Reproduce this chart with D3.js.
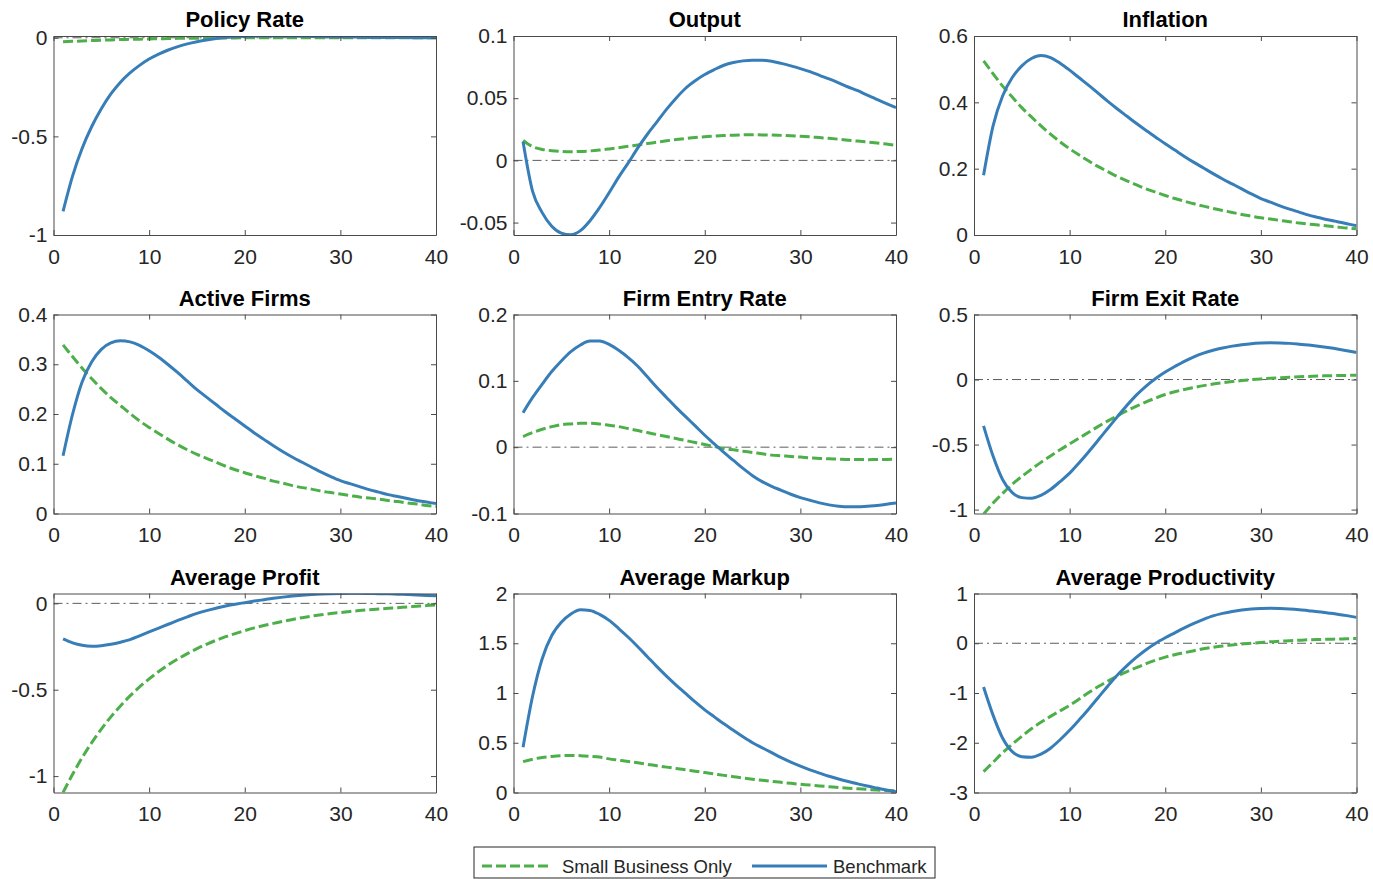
<!DOCTYPE html>
<html>
<head>
<meta charset="utf-8">
<script src="https://cdn.jsdelivr.net/npm/d3@7/dist/d3.min.js"></script>
<style>
  body { margin: 0; background: #fff; }
  svg { font-family: "Liberation Sans", Arial, Helvetica, sans-serif; }
</style>
</head>
<body>
<svg width="1373" height="879"></svg>
<script>
// quarters after the shock
var periods = [1,2,3,4,5,6,7,8,9,10,11,12,13,14,15,16,17,18,19,20,
               21,22,23,24,25,26,27,28,29,30,31,32,33,34,35,36,37,38,39,40];

var titles = ["Policy Rate", "Output", "Inflation",
              "Active Firms", "Firm Entry Rate", "Firm Exit Rate",
              "Average Profit", "Average Markup", "Average Productivity"];

var seriesNames = ["Small Business Only", "Benchmark"];

var xTicks = [0, 10, 20, 30, 40];

// y ranges and ticks, one per panel
var yDomains = [[-1, 0.009], [-0.06, 0.1], [0, 0.6],
                [0, 0.4], [-0.1, 0.2], [-1.03, 0.5],
                [-1.095, 0.057], [0, 2], [-3, 1]];
var yTicks = [[-1, -0.5, 0], [-0.05, 0, 0.05, 0.1], [0, 0.2, 0.4, 0.6],
              [0, 0.1, 0.2, 0.3, 0.4], [-0.1, 0, 0.1, 0.2], [-1, -0.5, 0, 0.5],
              [-1, -0.5, 0], [0, 0.5, 1, 1.5, 2], [-3, -2, -1, 0, 1]];

// Benchmark
var policyBench = [-0.88,-0.70,-0.56,-0.45,-0.36,-0.285,-0.225,-0.178,-0.14,-0.108,
  -0.083,-0.062,-0.045,-0.031,-0.02,-0.011,-0.004,0.001,0.005,0.007,
  0.008,0.009,0.009,0.009,0.008,0.008,0.007,0.006,0.005,0.004,
  0.004,0.003,0.002,0.002,0.001,0.001,0.001,0,0,0];
var outputBench = [0.015,-0.025,-0.042,-0.053,-0.0585,-0.0598,-0.0565,-0.0485,-0.038,-0.026,
  -0.0135,-0.002,0.010,0.021,0.031,0.041,0.050,0.058,0.064,0.069,
  0.073,0.0765,0.0787,0.080,0.0805,0.0805,0.0797,0.078,0.076,0.0738,
  0.0714,0.0684,0.0655,0.0623,0.059,0.056,0.0524,0.049,0.0457,0.0425];
var inflationBench = [0.18,0.33,0.42,0.475,0.51,0.532,0.541,0.535,0.518,0.497,
  0.474,0.451,0.427,0.403,0.380,0.358,0.336,0.315,0.295,0.275,
  0.256,0.237,0.219,0.202,0.185,0.169,0.154,0.139,0.124,0.110,
  0.099,0.088,0.078,0.069,0.060,0.053,0.046,0.040,0.034,0.028];
var activeBench = [0.116,0.200,0.265,0.305,0.330,0.343,0.347,0.345,0.338,0.327,
  0.314,0.299,0.283,0.266,0.249,0.234,0.219,0.204,0.190,0.176,
  0.162,0.149,0.136,0.124,0.113,0.103,0.093,0.083,0.074,0.066,
  0.060,0.054,0.048,0.043,0.038,0.034,0.030,0.026,0.023,0.020];
var entryBench = [0.052,0.075,0.095,0.114,0.130,0.144,0.154,0.160,0.160,0.155,
  0.146,0.135,0.122,0.106,0.090,0.075,0.060,0.046,0.032,0.018,
  0.005,-0.008,-0.020,-0.032,-0.043,-0.052,-0.059,-0.065,-0.071,-0.076,
  -0.080,-0.084,-0.087,-0.089,-0.090,-0.090,-0.089,-0.088,-0.086,-0.084];
var exitBench = [-0.356,-0.59,-0.77,-0.87,-0.908,-0.913,-0.89,-0.845,-0.785,-0.72,
  -0.64,-0.555,-0.465,-0.375,-0.285,-0.198,-0.118,-0.050,0.008,0.058,
  0.10,0.14,0.175,0.203,0.225,0.243,0.257,0.268,0.276,0.280,
  0.282,0.281,0.278,0.272,0.265,0.256,0.246,0.235,0.222,0.208];
var profitBench = [-0.206,-0.229,-0.243,-0.248,-0.245,-0.237,-0.225,-0.210,-0.188,-0.165,
  -0.143,-0.121,-0.099,-0.078,-0.058,-0.042,-0.028,-0.015,-0.005,0.004,
  0.013,0.021,0.029,0.036,0.042,0.047,0.051,0.054,0.056,0.057,
  0.058,0.058,0.057,0.056,0.055,0.053,0.051,0.049,0.046,0.044];
var markupBench = [0.455,0.97,1.345,1.578,1.711,1.794,1.837,1.83,1.79,1.73,
  1.648,1.56,1.465,1.365,1.265,1.17,1.08,0.995,0.91,0.83,
  0.76,0.69,0.625,0.56,0.50,0.45,0.40,0.35,0.305,0.265,
  0.228,0.195,0.163,0.135,0.11,0.087,0.065,0.045,0.025,0.007];
var prodBench = [-0.88,-1.45,-1.91,-2.18,-2.28,-2.29,-2.23,-2.11,-1.94,-1.75,
  -1.54,-1.32,-1.09,-0.86,-0.64,-0.45,-0.28,-0.13,0.0,0.11,
  0.21,0.31,0.40,0.48,0.55,0.60,0.64,0.67,0.69,0.70,
  0.705,0.70,0.69,0.675,0.655,0.635,0.61,0.585,0.555,0.52];

// Small Business Only
var policySmall = [-0.02,-0.018,-0.016,-0.014,-0.012,-0.011,-0.009,-0.008,-0.007,-0.006,
  -0.005,-0.004,-0.003,-0.003,-0.002,-0.002,-0.001,-0.001,-0.001,0,
  0,0,0,0,0,0,0,0,0,0,
  0,0,0,0,0,0,0,0,0,0];
var outputSmall = [0.016,0.011,0.0088,0.0078,0.0072,0.007,0.0072,0.0076,0.0083,0.0092,
  0.0102,0.0113,0.0124,0.0135,0.0146,0.0157,0.0167,0.0176,0.0184,0.019,
  0.0196,0.02,0.0203,0.0205,0.0206,0.0205,0.0204,0.0201,0.0198,0.0194,
  0.0189,0.0183,0.0177,0.017,0.0162,0.0155,0.0147,0.0139,0.0131,0.0121];
var inflationSmall = [0.525,0.486,0.449,0.416,0.384,0.356,0.329,0.304,0.281,0.260,
  0.241,0.223,0.206,0.191,0.176,0.163,0.151,0.139,0.129,0.119,
  0.110,0.102,0.094,0.087,0.080,0.074,0.068,0.062,0.057,0.052,
  0.048,0.044,0.040,0.036,0.033,0.030,0.027,0.024,0.021,0.019];
var activeSmall = [0.339,0.315,0.292,0.271,0.251,0.233,0.217,0.201,0.186,0.173,
  0.161,0.149,0.138,0.128,0.119,0.111,0.103,0.095,0.088,0.082,
  0.076,0.071,0.065,0.061,0.056,0.052,0.049,0.045,0.042,0.039,
  0.036,0.033,0.031,0.029,0.026,0.024,0.021,0.019,0.016,0.014];
var entrySmall = [0.016,0.022,0.027,0.031,0.034,0.035,0.036,0.036,0.035,0.033,
  0.031,0.028,0.025,0.022,0.019,0.016,0.013,0.010,0.007,0.004,
  0.001,-0.002,-0.004,-0.006,-0.008,-0.010,-0.012,-0.013,-0.014,-0.015,
  -0.016,-0.017,-0.0175,-0.018,-0.0185,-0.0187,-0.0188,-0.0187,-0.0185,-0.018];
var exitSmall = [-1.035,-0.95,-0.875,-0.805,-0.745,-0.69,-0.637,-0.587,-0.54,-0.495,
  -0.45,-0.405,-0.36,-0.318,-0.278,-0.24,-0.205,-0.172,-0.142,-0.115,
  -0.094,-0.076,-0.061,-0.047,-0.035,-0.025,-0.016,-0.008,-0.001,0.005,
  0.01,0.014,0.018,0.021,0.024,0.027,0.029,0.031,0.032,0.033];
var profitSmall = [-1.095,-0.989,-0.893,-0.806,-0.728,-0.657,-0.594,-0.536,-0.484,-0.437,
  -0.395,-0.356,-0.322,-0.291,-0.262,-0.237,-0.214,-0.193,-0.175,-0.158,
  -0.142,-0.128,-0.116,-0.104,-0.093,-0.083,-0.074,-0.066,-0.059,-0.053,
  -0.047,-0.042,-0.037,-0.033,-0.029,-0.025,-0.021,-0.017,-0.013,-0.01];
var markupSmall = [0.31,0.335,0.352,0.363,0.37,0.372,0.37,0.364,0.356,0.338,
  0.325,0.312,0.298,0.283,0.268,0.255,0.242,0.228,0.214,0.2,
  0.186,0.172,0.159,0.146,0.134,0.123,0.112,0.102,0.092,0.083,
  0.075,0.066,0.058,0.05,0.043,0.037,0.031,0.025,0.02,0.016];
var prodSmall = [-2.58,-2.39,-2.2,-2.03,-1.87,-1.72,-1.59,-1.47,-1.36,-1.25,
  -1.12,-0.99,-0.87,-0.76,-0.66,-0.57,-0.49,-0.41,-0.34,-0.28,
  -0.23,-0.19,-0.15,-0.11,-0.08,-0.055,-0.035,-0.015,0.0,0.015,
  0.03,0.04,0.05,0.06,0.07,0.075,0.08,0.085,0.09,0.095];

var benchSeries = [policyBench, outputBench, inflationBench, activeBench, entryBench,
                   exitBench, profitBench, markupBench, prodBench];
var smallSeries = [policySmall, outputSmall, inflationSmall, activeSmall, entrySmall,
                   exitSmall, profitSmall, markupSmall, prodSmall];

var green = "#4daf4a", blue = "#377eb8", ink = "#262626";

var svg = d3.select("svg");

var colLeft = [53.5, 513.5, 974],
    rowTop = [36, 314.5, 593.5],
    pw = 382.5,
    ph = 199;

titles.forEach(function(title, i) {
  var left = colLeft[i % 3],
      top = rowTop[Math.floor(i / 3)];

  var x = d3.scaleLinear().domain([0, 40]).range([0, pw]),
      y = d3.scaleLinear().domain(yDomains[i]).range([ph, 0]);

  var g = svg.append("g")
      .attr("transform", "translate(" + left + "," + top + ")");

  g.append("clipPath")
      .attr("id", "clip" + i)
    .append("rect")
      .attr("width", pw)
      .attr("height", ph);

  var plot = g.append("g").attr("clip-path", "url(#clip" + i + ")");

  var line = d3.line()
      .curve(d3.curveMonotoneX)
      .x(function(d, j) { return x(periods[j]); })
      .y(function(d) { return y(d); });

  // zero reference (skip where it would sit on the bottom axis)
  if (yDomains[i][0] < 0) {
    plot.append("line")
        .attr("x1", x(0))
        .attr("x2", x(40))
        .attr("y1", y(0))
        .attr("y2", y(0))
        .attr("stroke", "#333")
        .attr("stroke-width", 0.8)
        .attr("stroke-dasharray", "9,4,2,4");
  }

  plot.append("path")
      .datum(smallSeries[i])
      .attr("fill", "none")
      .attr("stroke", green)
      .attr("stroke-width", 3)
      .attr("stroke-dasharray", "10,4")
      .attr("d", line);

  plot.append("path")
      .datum(benchSeries[i])
      .attr("fill", "none")
      .attr("stroke", blue)
      .attr("stroke-width", 3)
      .attr("d", line);

  // box with inward ticks on every side
  var xb = g.append("g")
      .attr("transform", "translate(0," + ph + ")")
      .call(d3.axisBottom(x).tickValues(xTicks).tickSizeInner(-5).tickSizeOuter(0).tickPadding(14));

  var yl = g.append("g")
      .call(d3.axisLeft(y).tickValues(yTicks[i]).tickSizeInner(-5).tickSizeOuter(0).tickPadding(6)
        .tickFormat(function(d) { return String(d); }));

  var xt = g.append("g")
      .call(d3.axisTop(x).tickValues(xTicks).tickSizeInner(-5).tickSizeOuter(0).tickFormat(""));

  var yr = g.append("g")
      .attr("transform", "translate(" + pw + ",0)")
      .call(d3.axisRight(y).tickValues(yTicks[i]).tickSizeInner(-5).tickSizeOuter(0).tickFormat(""));

  [xb, yl, xt, yr].forEach(function(a) {
    a.selectAll("path, line").attr("stroke", "#4a4a4a").attr("stroke-width", 1);
    a.selectAll("text")
        .attr("fill", ink)
        .attr("font-size", "21px")
        .attr("font-family", "\"Liberation Sans\", Arial, sans-serif");
  });

  g.append("text")
      .attr("x", pw / 2)
      .attr("y", -9)
      .attr("text-anchor", "middle")
      .attr("font-size", "22px")
      .attr("font-weight", "bold")
      .attr("fill", "#000")
      .text(title);
});

// legend
var legend = svg.append("g").attr("transform", "translate(474,847)");

legend.append("rect")
    .attr("width", 461)
    .attr("height", 31)
    .attr("fill", "#fff")
    .attr("stroke", ink)
    .attr("stroke-width", 1);

var legendItems = [
  {x1: 8, x2: 78, tx: 88, color: green, dash: "10,4"},
  {x1: 278, x2: 353, tx: 359, color: blue, dash: null}
];

legendItems.forEach(function(d, k) {
  legend.append("line")
      .attr("x1", d.x1)
      .attr("x2", d.x2)
      .attr("y1", 19)
      .attr("y2", 19)
      .attr("stroke", d.color)
      .attr("stroke-width", 3)
      .attr("stroke-dasharray", d.dash);

  legend.append("text")
      .attr("x", d.tx)
      .attr("y", 25.5)
      .attr("font-size", "18.5px")
      .attr("fill", ink)
      .text(seriesNames[k]);
});
</script>
</body>
</html>
